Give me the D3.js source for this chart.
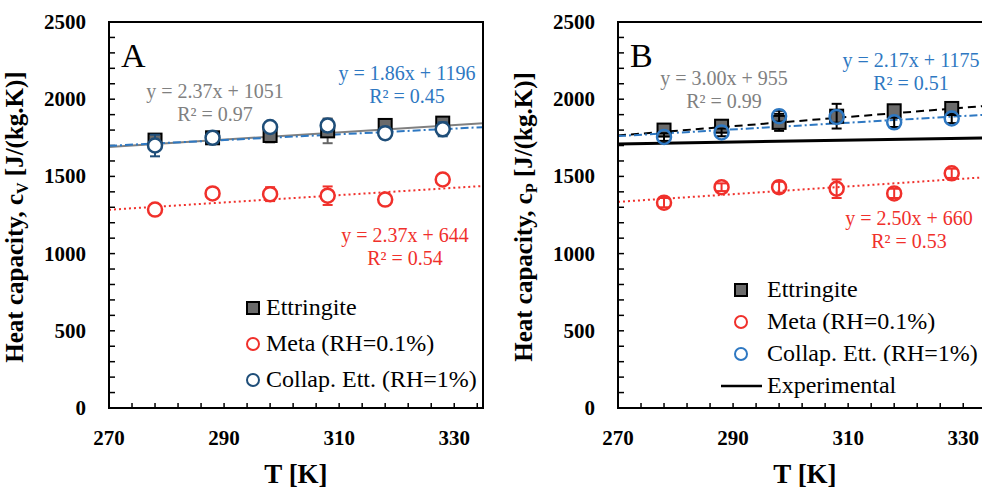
<!DOCTYPE html>
<html>
<head>
<meta charset="utf-8">
<script src="https://cdn.jsdelivr.net/npm/d3@7"></script>
<style>
  body { margin: 0; background: #fff; }
  svg { display: block; font-family: "Liberation Serif", "Times New Roman", serif; }
  .tick-label { font-size: 21px; font-weight: bold; fill: #000; }
  .axis-title { font-size: 27px; font-weight: bold; fill: #000; }
  .y-title { font-size: 25px; font-weight: bold; fill: #000; }
  .legend-text { font-size: 24px; fill: #000; }
  .eq { font-size: 20px; }
</style>
</head>
<body>
<div id="chart"></div>
<script>
// Temperatures of the simulated points (K)
const tempK = [278, 288, 298, 308, 318, 328];

// Panel A: cV
const cvEttringite    = [1735, 1750, 1765, 1795, 1830, 1845];
const cvEttringiteErr = [30, 25, 45, 80, 30, 35];
const cvMeta          = [1285, 1390, 1385, 1375, 1350, 1480];
const cvMetaErr       = [35, 30, 45, 60, 35, 30];
const cvCollapsed     = [1700, 1750, 1820, 1830, 1780, 1805];
const cvCollapsedErr  = [70, 25, 30, 40, 35, 45];

// Panel B: cP
const cpEttringite    = [1800, 1825, 1850, 1890, 1925, 1940];
const cpEttringiteErr = [35, 30, 55, 80, 35, 40];
const cpMeta          = [1330, 1430, 1430, 1420, 1390, 1520];
const cpMetaErr       = [30, 25, 35, 60, 30, 30];
const cpCollapsed     = [1755, 1785, 1890, 1885, 1850, 1875];
const cpCollapsedErr  = [25, 25, 35, 40, 30, 30];

// Experimental cP line (end points)
const experimentalT  = [270, 335];
const experimentalCp = [1710, 1750];

// Linear fits [slope, intercept]
const fitCvEtt  = [2.37, 1051];
const fitCvMeta = [2.37, 644];
const fitCvColl = [1.86, 1196];
const fitCpEtt  = [3.00, 955];
const fitCpMeta = [2.50, 660];
const fitCpColl = [2.17, 1175];

// Axes
const xDomain = [270, 335];
const yDomain = [0, 2500];
const xTickLabels = [270, 290, 310, 330];
const yTickLabels = [0, 500, 1000, 1500, 2000, 2500];

const RED = '#f0302b';
const BLUE = '#2e78c2';
const DARKBLUE = '#1f4e79';
const GRAY = '#808080';

const W = 982, H = 491;
const svg = d3.select('#chart').append('svg').attr('width', W).attr('height', H);

function createPanel(opt) {
  const left = opt.left, top = 22, width = 374, height = 386;
  const x = d3.scaleLinear().domain(xDomain).range([left, left + width]);
  const y = d3.scaleLinear().domain(yDomain).range([top + height, top]);
  const g = svg.append('g');

  // ticks (inward)
  const xMinor = d3.range(270, 336, 4);
  const yMinor = d3.range(0, 2501, 100);
  g.append('g').selectAll('line').data(xMinor).enter().append('line')
    .attr('x1', d => x(d)).attr('x2', d => x(d))
    .attr('y1', top + height).attr('y2', top + height - 5)
    .attr('stroke', '#000').attr('stroke-width', 1.5);
  g.append('g').selectAll('line').data(yMinor).enter().append('line')
    .attr('x1', left).attr('x2', left + 6)
    .attr('y1', d => y(d)).attr('y2', d => y(d))
    .attr('stroke', '#000').attr('stroke-width', 1.5);

  // tick labels
  g.selectAll('.xl').data(xTickLabels).enter().append('text')
    .attr('class', 'tick-label')
    .attr('x', d => x(d)).attr('y', top + height + 37)
    .attr('text-anchor', 'middle').text(d => d);
  g.selectAll('.yl').data(yTickLabels).enter().append('text')
    .attr('class', 'tick-label')
    .attr('x', left - 23).attr('y', d => y(d) + 7)
    .attr('text-anchor', 'end').text(d => d);

  // axis titles
  g.append('text').attr('class', 'axis-title')
    .attr('x', left + 187).attr('y', 483)
    .attr('text-anchor', 'middle').text('T [K]');
  const yt = g.append('text').attr('class', 'y-title')
    .attr('transform', `translate(${opt.titleX},217) rotate(-90)`)
    .attr('text-anchor', 'middle');
  yt.append('tspan').text('Heat capacity, c');
  yt.append('tspan').attr('dy', 5).style('font-size', '16px').text(opt.sub);
  yt.append('tspan').attr('dy', -5).text(' [J/(kg.K)]');

  // clip for lines
  const clipId = 'clip' + opt.name;
  svg.append('clipPath').attr('id', clipId).append('rect')
    .attr('x', left).attr('y', top).attr('width', width).attr('height', height);
  const plot = g.append('g').attr('clip-path', `url(#${clipId})`);

  // fit lines
  opt.fits.forEach(f => {
    const [m, b] = f.coef;
    plot.append('line')
      .attr('x1', x(xDomain[0])).attr('y1', y(m * xDomain[0] + b))
      .attr('x2', x(xDomain[1])).attr('y2', y(m * xDomain[1] + b))
      .attr('stroke', f.color).attr('stroke-width', f.width || 2)
      .attr('stroke-dasharray', f.dash || null);
  });

  if (opt.experimental) {
    plot.append('path')
      .datum(experimentalT.map((t, i) => [t, experimentalCp[i]]))
      .attr('fill', 'none').attr('stroke', '#000').attr('stroke-width', 3)
      .attr('d', d3.line().x(d => x(d[0])).y(d => y(d[1])));
  }

  // error bars + markers
  opt.series.forEach(s => {
    const pts = tempK.map((t, i) => ({ t, v: s.values[i], e: s.err[i] }));
    const eb = plot.append('g').attr('stroke', s.errColor).attr('stroke-width', 2);
    pts.forEach(p => {
      eb.append('line').attr('x1', x(p.t)).attr('x2', x(p.t))
        .attr('y1', y(p.v - p.e)).attr('y2', y(p.v + p.e));
      [p.v - p.e, p.v + p.e].forEach(v => {
        eb.append('line').attr('x1', x(p.t) - 5).attr('x2', x(p.t) + 5)
          .attr('y1', y(v)).attr('y2', y(v));
      });
    });
    if (s.shape === 'square') {
      plot.selectAll(null).data(pts).enter().append('rect')
        .attr('x', d => x(d.t) - 6.5).attr('y', d => y(d.v) - 6.5)
        .attr('width', 13).attr('height', 13)
        .attr('fill', '#6b6b6b').attr('stroke', '#000').attr('stroke-width', 2);
    } else {
      plot.selectAll(null).data(pts).enter().append('circle')
        .attr('cx', d => x(d.t)).attr('cy', d => y(d.v)).attr('r', 7)
        .attr('fill', s.fill).attr('stroke', s.color).attr('stroke-width', 2.5);
    }
  });

  // frame
  g.append('rect').attr('x', left).attr('y', top).attr('width', width).attr('height', height)
    .attr('fill', 'none').attr('stroke', '#000').attr('stroke-width', 2);

  // panel letter
  g.append('text').attr('x', left + 12).attr('y', top + 45)
    .style('font-size', '34px').text(opt.name);

  // equations
  opt.equations.forEach(e => {
    e.lines.forEach((l, i) => {
      g.append('text').attr('class', 'eq')
        .attr('x', e.x).attr('y', e.y + i * 23)
        .attr('text-anchor', 'middle').attr('fill', e.color).text(l);
    });
  });

  // legend
  const lg = g.append('g');
  opt.legend.forEach((it, i) => {
    const ly = opt.legendY + i * opt.legendStep;
    const mx = opt.legendX;
    if (it.shape === 'square') {
      lg.append('rect').attr('x', mx - 6).attr('y', ly - 6).attr('width', 12).attr('height', 12)
        .attr('fill', '#6b6b6b').attr('stroke', '#000').attr('stroke-width', 2);
    } else if (it.shape === 'circle') {
      lg.append('circle').attr('cx', mx).attr('cy', ly).attr('r', 6)
        .attr('fill', '#fff').attr('stroke', it.color).attr('stroke-width', 2);
    } else {
      lg.append('line').attr('x1', mx - 20).attr('x2', mx + 21).attr('y1', ly).attr('y2', ly)
        .attr('stroke', '#000').attr('stroke-width', 2.5);
    }
    lg.append('text').attr('class', 'legend-text')
      .attr('x', mx + opt.legendGap).attr('y', ly + 7).text(it.label);
  });
}

createPanel({
  name: 'A', left: 109, titleX: 23, sub: 'V',
  fits: [
    { coef: fitCvMeta, color: RED, dash: '2,3' },
    { coef: fitCvEtt, color: GRAY },
    { coef: fitCvColl, color: BLUE, dash: '8,3,2,3' }
  ],
  series: [
    { shape: 'square', values: cvEttringite, err: cvEttringiteErr, errColor: '#666' },
    { shape: 'circle', values: cvMeta, err: cvMetaErr, color: RED, errColor: RED, fill: '#fff' },
    { shape: 'circle', values: cvCollapsed, err: cvCollapsedErr, color: DARKBLUE, errColor: DARKBLUE, fill: '#fff' }
  ],
  equations: [
    { x: 215, y: 98, color: GRAY, lines: ['y = 2.37x + 1051', 'R² = 0.97'] },
    { x: 407, y: 80, color: BLUE, lines: ['y = 1.86x + 1196', 'R² = 0.45'] },
    { x: 405, y: 242, color: RED, lines: ['y = 2.37x + 644', 'R² = 0.54'] }
  ],
  legendX: 253, legendY: 308, legendStep: 36, legendGap: 13,
  legend: [
    { shape: 'square', label: 'Ettringite' },
    { shape: 'circle', color: RED, label: 'Meta (RH=0.1%)' },
    { shape: 'circle', color: DARKBLUE, label: 'Collap. Ett. (RH=1%)' }
  ]
});

createPanel({
  name: 'B', left: 618, titleX: 532, sub: 'P', experimental: true,
  fits: [
    { coef: fitCpMeta, color: RED, dash: '2,3' },
    { coef: fitCpEtt, color: '#000', dash: '8,5' },
    { coef: fitCpColl, color: BLUE, dash: '8,3,2,3' }
  ],
  series: [
    { shape: 'square', values: cpEttringite, err: cpEttringiteErr, errColor: '#000' },
    { shape: 'circle', values: cpMeta, err: cpMetaErr, color: RED, errColor: RED, fill: 'none' },
    { shape: 'circle', values: cpCollapsed, err: cpCollapsedErr, color: BLUE, errColor: '#000', fill: 'none' }
  ],
  equations: [
    { x: 724, y: 85, color: GRAY, lines: ['y = 3.00x + 955', 'R² = 0.99'] },
    { x: 911, y: 67, color: BLUE, lines: ['y = 2.17x + 1175', 'R² = 0.51'] },
    { x: 909, y: 225, color: RED, lines: ['y = 2.50x + 660', 'R² = 0.53'] }
  ],
  legendX: 741, legendY: 290, legendStep: 32, legendGap: 26,
  legend: [
    { shape: 'square', label: 'Ettringite' },
    { shape: 'circle', color: RED, label: 'Meta (RH=0.1%)' },
    { shape: 'circle', color: BLUE, label: 'Collap. Ett. (RH=1%)' },
    { shape: 'line', label: 'Experimental' }
  ]
});
</script>
</body>
</html>
